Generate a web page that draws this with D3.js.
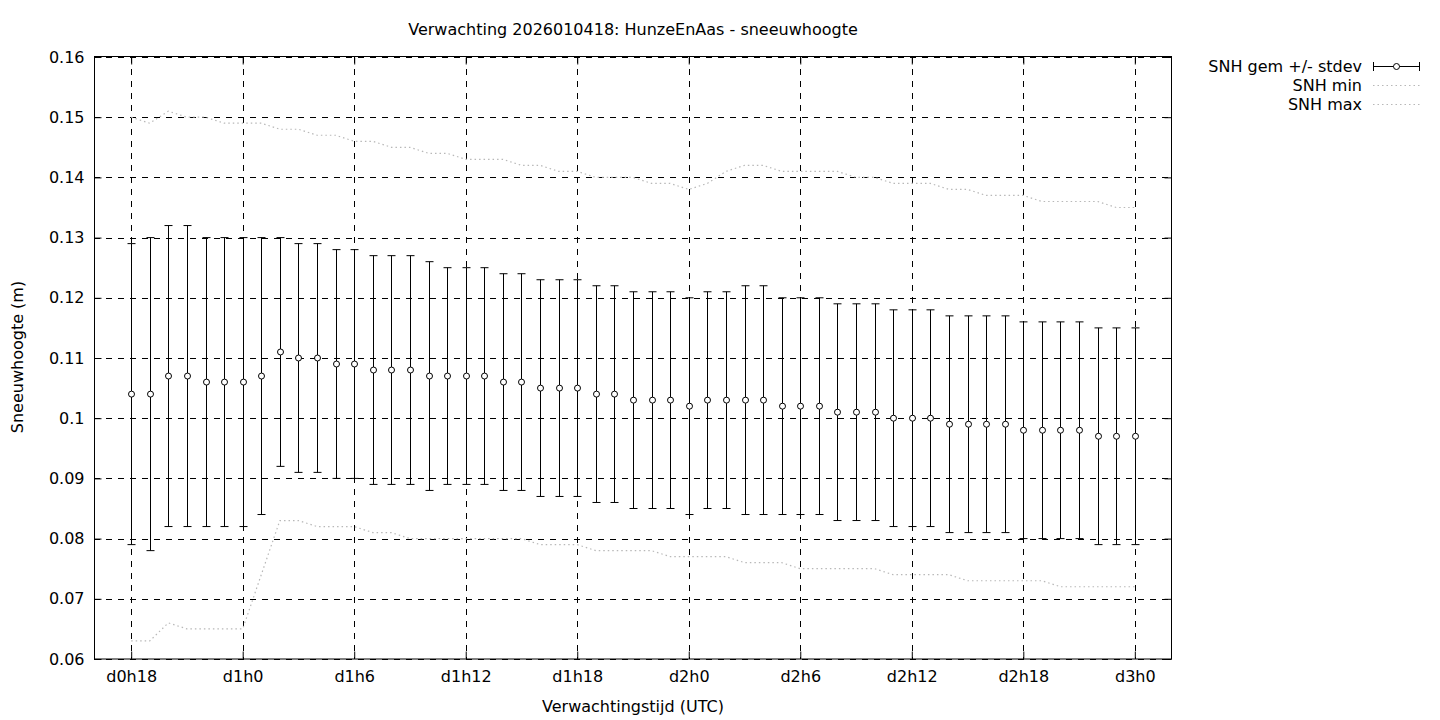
<!DOCTYPE html>
<html>
<head>
<meta charset="utf-8">
<script src="https://cdn.jsdelivr.net/npm/d3@7"></script>
<style>
html,body{margin:0;padding:0;background:#fff;}
svg{display:block;font-family:"DejaVu Sans",sans-serif;}
</style>
</head>
<body>
<svg id="chart" width="1440" height="720"></svg>
<script>
// Lead time in hours since d0h0
const leadHours = [18,19,20,21,22,23,24,25,26,27,28,29,30,31,32,33,34,35,36,37,38,39,40,41,42,43,44,45,
  46,47,48,49,50,51,52,53,54,55,56,57,58,59,60,61,62,63,64,65,66,67,68,69,70,71,72];
const snhMean = [0.104,0.104,0.107,0.107,0.106,0.106,0.106,0.107,0.111,0.110,0.110,0.109,0.109,0.108,0.108,0.108,0.107,0.107,
  0.107,0.107,0.106,0.106,0.105,0.105,0.105,0.104,0.104,0.103,0.103,0.103,0.102,0.103,0.103,0.103,0.103,0.102,0.102,0.102,
  0.101,0.101,0.101,0.100,0.100,0.100,0.099,0.099,0.099,0.099,0.098,0.098,0.098,0.098,0.097,0.097,0.097];
const snhLow = [0.079,0.078,0.082,0.082,0.082,0.082,0.082,0.084,0.092,0.091,0.091,0.090,0.090,0.089,0.089,0.089,0.088,0.089,
  0.089,0.089,0.088,0.088,0.087,0.087,0.087,0.086,0.086,0.085,0.085,0.085,0.084,0.085,0.085,0.084,0.084,0.084,0.084,0.084,
  0.083,0.083,0.083,0.082,0.082,0.082,0.081,0.081,0.081,0.081,0.080,0.080,0.080,0.080,0.079,0.079,0.079];
const snhHigh = [0.129,0.130,0.132,0.132,0.130,0.130,0.130,0.130,0.130,0.129,0.129,0.128,0.128,0.127,0.127,0.127,0.126,0.125,
  0.125,0.125,0.124,0.124,0.123,0.123,0.123,0.122,0.122,0.121,0.121,0.121,0.120,0.121,0.121,0.122,0.122,0.120,0.120,0.120,
  0.119,0.119,0.119,0.118,0.118,0.118,0.117,0.117,0.117,0.117,0.116,0.116,0.116,0.116,0.115,0.115,0.115];
const snhMin = [0.063,0.063,0.066,0.065,0.065,0.065,0.065,0.074,0.083,0.083,0.082,0.082,0.082,0.081,0.081,0.080,0.080,0.080,
  0.080,0.080,0.080,0.080,0.079,0.079,0.079,0.078,0.078,0.078,0.078,0.077,0.077,0.077,0.077,0.076,0.076,0.076,0.075,0.075,
  0.075,0.075,0.075,0.074,0.074,0.074,0.074,0.073,0.073,0.073,0.073,0.073,0.072,0.072,0.072,0.072,0.072];
const snhMax = [0.150,0.149,0.151,0.150,0.150,0.149,0.149,0.149,0.148,0.148,0.147,0.147,0.146,0.146,0.145,0.145,0.144,0.144,
  0.143,0.143,0.143,0.142,0.142,0.141,0.141,0.140,0.140,0.140,0.139,0.139,0.138,0.139,0.141,0.142,0.142,0.141,0.141,0.141,
  0.141,0.140,0.140,0.139,0.139,0.139,0.138,0.138,0.137,0.137,0.137,0.136,0.136,0.136,0.136,0.135,0.135];
const xTickHours = [18,24,30,36,42,48,54,60,66,72];
const xTickLabels = ["d0h18","d1h0","d1h6","d1h12","d1h18","d2h0","d2h6","d2h12","d2h18","d3h0"];
const yTicks = [0.06,0.07,0.08,0.09,0.10,0.11,0.12,0.13,0.14,0.15,0.16];
const yTickLabels = ["0.06","0.07","0.08","0.09","0.1","0.11","0.12","0.13","0.14","0.15","0.16"];
const legendLabels = ["SNH gem +/- stdev","SNH min","SNH max"];
const titleText = "Verwachting 2026010418: HunzeEnAas - sneeuwhoogte";
const xAxisTitle = "Verwachtingstijd (UTC)";
const yAxisTitle = "Sneeuwhoogte (m)";

const FS = "16px";
const L = 94, R = 1172, T = 57, B = 659;
const svg = d3.select("#chart");
const x = d3.scaleLinear().domain([16, 74]).range([L, R]);
const y = d3.scaleLinear().domain([0.06, 0.16]).range([B, T]);

const dotColor = "#b8b8b8";
const gridDash = "6,6";

// grid
const g = svg.append("g");
g.selectAll("line.hg").data(yTicks).join("line")
  .attr("x1", L).attr("x2", R)
  .attr("y1", d => Math.round(y(d)) + 0.5).attr("y2", d => Math.round(y(d)) + 0.5)
  .attr("stroke", "#000").attr("stroke-width", 1).attr("stroke-dasharray", gridDash);
g.selectAll("line.vg").data(xTickHours).join("line")
  .attr("y1", T).attr("y2", B)
  .attr("x1", d => Math.round(x(d)) + 0.5).attr("x2", d => Math.round(x(d)) + 0.5)
  .attr("stroke", "#000").attr("stroke-width", 1).attr("stroke-dasharray", gridDash);

// axes with inward ticks (mirrored)
const yAxisL = d3.axisLeft(y).tickValues(yTicks).tickSize(-7).tickFormat((d,i) => yTickLabels[i]).tickPadding(10);
const yAxisR = d3.axisRight(y).tickValues(yTicks).tickSize(-7).tickFormat("");
const xAxisB = d3.axisBottom(x).tickValues(xTickHours).tickSize(-7).tickFormat((d,i) => xTickLabels[i]).tickPadding(12);
const xAxisT = d3.axisTop(x).tickValues(xTickHours).tickSize(-7).tickFormat("");
function styleAxis(sel){
  sel.select(".domain").remove();
  sel.selectAll("line").attr("stroke","#000");
  sel.selectAll("text").attr("fill","#000").style("font-size",FS).style("font-family","DejaVu Sans");
}
svg.append("g").attr("transform",`translate(${L+0.5},0)`).call(yAxisL).call(styleAxis);
svg.append("g").attr("transform",`translate(${R-0.5},0)`).call(yAxisR).call(styleAxis);
svg.append("g").attr("transform",`translate(0,${B-0.5})`).call(xAxisB).call(styleAxis);
svg.append("g").attr("transform",`translate(0,${T+0.5})`).call(xAxisT).call(styleAxis);

// min/max dotted lines
const lineGen = arr => d3.line().x((d,i) => x(leadHours[i])).y(d => y(d))(arr);
[snhMin, snhMax].forEach(arr => {
  svg.append("path").attr("d", lineGen(arr)).attr("fill","none")
    .attr("stroke", dotColor).attr("stroke-width", 1.2).attr("stroke-dasharray","1.5,3");
});

// error bars
const eb = svg.append("g");
const cap = 4;
leadHours.forEach((h,i) => {
  const cx = Math.round(x(h)) + 0.5;
  eb.append("line").attr("x1",cx).attr("x2",cx).attr("y1",y(snhLow[i])).attr("y2",y(snhHigh[i]))
    .attr("stroke","#000").attr("stroke-width",1);
  [snhLow[i], snhHigh[i]].forEach(v => {
    eb.append("line").attr("x1",cx-cap).attr("x2",cx+cap).attr("y1",y(v)).attr("y2",y(v))
      .attr("stroke","#000").attr("stroke-width",1);
  });
});
eb.selectAll("circle").data(snhMean).join("circle")
  .attr("cx",(d,i) => Math.round(x(leadHours[i])) + 0.5).attr("cy", d => y(d)).attr("r",3)
  .attr("fill","#fff").attr("stroke","#000").attr("stroke-width",1);

// border
svg.append("rect").attr("x",L+0.5).attr("y",T-0.5).attr("width",R-L-1).attr("height",B-T+0.5)
  .attr("fill","none").attr("stroke","#000").attr("stroke-width",1);

// titles
svg.append("text").attr("x",633).attr("y",35).attr("text-anchor","middle").style("font-size",FS).text(titleText);
svg.append("text").attr("x",633).attr("y",712).attr("text-anchor","middle").style("font-size",FS).text(xAxisTitle);
svg.append("text").attr("transform","translate(23,357) rotate(-90)").attr("text-anchor","middle").style("font-size",FS).text(yAxisTitle);

// legend
const lg = svg.append("g");
const lx1 = 1373, lx2 = 1420, ly0 = 66, ldy = 19;
legendLabels.forEach((t,i) => {
  lg.append("text").attr("x",1362).attr("y",ly0 + i*ldy + 6).attr("text-anchor","end").style("font-size",FS).text(t);
});
lg.append("line").attr("x1",lx1).attr("x2",lx2).attr("y1",ly0+0.5).attr("y2",ly0+0.5).attr("stroke","#000");
[lx1+0.5, lx2-0.5].forEach(xx => lg.append("line").attr("x1",xx).attr("x2",xx).attr("y1",ly0-4).attr("y2",ly0+5).attr("stroke","#000"));
lg.append("circle").attr("cx",(lx1+lx2)/2).attr("cy",ly0+0.5).attr("r",3).attr("fill","#fff").attr("stroke","#000");
[1,2].forEach(i => lg.append("line").attr("x1",lx1).attr("x2",lx2).attr("y1",ly0+i*ldy+0.5).attr("y2",ly0+i*ldy+0.5)
  .attr("stroke",dotColor).attr("stroke-width",1.2).attr("stroke-dasharray","1.5,3"));
</script>
</body>
</html>
